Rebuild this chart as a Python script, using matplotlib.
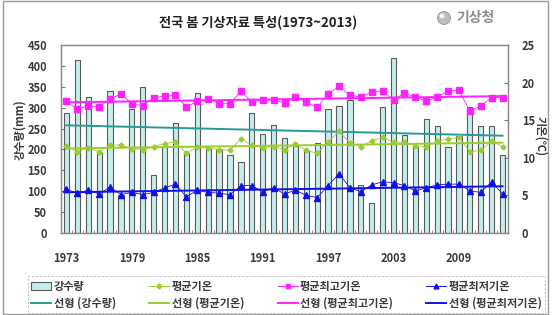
import numpy as np
import matplotlib
matplotlib.use("Agg")
import matplotlib.pyplot as plt
from matplotlib.patches import Rectangle, Ellipse
from matplotlib.lines import Line2D

plt.rcParams['font.family'] = ['Noto Sans CJK KR', 'DejaVu Sans']

years = list(range(1973, 2014))
precip = [288, 415, 326, 191, 341, 90, 296, 350, 140, 205,
          263, 192, 335, 200, 202, 187, 170, 288, 238, 258,
          228, 208, 196, 215, 298, 305, 318, 115, 71, 302,
          420, 235, 205, 274, 256, 205, 232, 302, 256, 256, 187]
t_mean = [11.6, 10.8, 11.3, 10.8, 11.7, 11.7, 11.2, 11.1, 11.5, 11.9,
          12.1, 10.6, 11.4, 11.3, 11.1, 11.0, 12.5, 11.7, 11.3, 11.5,
          11.1, 11.8, 11.0, 10.6, 12.1, 13.5, 12.0, 11.5, 12.3, 12.7,
          12.1, 12.1, 11.6, 11.5, 12.2, 12.5, 12.7, 10.8, 11.0, 12.2, 11.5]
t_max = [17.5, 16.5, 16.9, 16.8, 17.8, 18.5, 17.2, 16.9, 18.0, 18.2,
         18.3, 16.8, 17.5, 17.8, 17.2, 17.2, 18.9, 17.4, 17.7, 17.7,
         17.3, 18.1, 17.4, 16.7, 18.5, 19.5, 18.3, 18.1, 18.8, 18.9,
         17.7, 18.6, 18.1, 17.5, 18.1, 18.9, 19.0, 16.2, 16.9, 18.0, 18.0]
t_min = [5.8, 5.3, 5.7, 5.2, 6.1, 5.1, 5.4, 5.1, 5.4, 6.0,
         6.5, 4.8, 5.7, 5.4, 5.3, 5.1, 6.3, 6.3, 5.5, 6.0,
         5.2, 5.7, 5.0, 4.7, 6.3, 7.9, 6.0, 5.5, 6.4, 6.8,
         6.7, 6.3, 5.6, 6.0, 6.4, 6.5, 6.5, 5.6, 5.4, 6.8, 5.2]
tick_years = [1973, 1979, 1985, 1991, 1997, 2003, 2009]
left_ticks = list(range(0, 451, 50))
right_ticks = list(range(0, 26, 5))

c_bar = '#c4eeec'
c_bar_edge = '#5a5a5a'
c_teal = '#2a9a98'
c_green = '#9acd32'
c_mag = '#ff20ff'
c_blue = '#1010ee'
c_txt = '#3a3a3a'

W, H = 558, 315
fig = plt.figure(figsize=(W / 100, H / 100), dpi=100)

def fx(p):
    return p / W

def fy(p):
    return 1 - p / H

# outer frame
fig.add_artist(Rectangle((fx(3), fy(314)), fx(548) - fx(3), fy(0.5) - fy(314),
                         transform=fig.transFigure, fill=False,
                         edgecolor='#9a9a9a', linewidth=1.0))

L, R, T, B = 61, 508, 45, 233
ax = fig.add_axes([fx(L), fy(B), fx(R) - fx(L), fy(T) - fy(B)])
ax2 = ax.twinx()

x = np.array(years)
ax.bar(x, precip, width=0.48, color=c_bar, edgecolor=c_bar_edge, linewidth=0.8, zorder=2)
ax.set_xlim(1972.5, 2013.5)
ax.set_ylim(0, 450)
ax.set_yticks(left_ticks)

# trends
def trend(vals):
    k, b = np.polyfit(x, np.array(vals, dtype=float), 1)
    return k * x + b

ax.plot(x, trend(precip), color=c_teal, linewidth=1.4, zorder=3)

ax2.set_ylim(0, 25)
ax2.set_yticks(right_ticks)
ax2.plot(x, t_mean, color=c_green, linewidth=0.6, marker='D', markersize=2.6, zorder=4)
ax2.plot(x, t_max, color=c_mag, linewidth=0.6, marker='s', markersize=3.8, zorder=4)
ax2.plot(x, t_min, color=c_blue, linewidth=0.6, marker='^', markersize=3.8, zorder=4)
ax2.plot(x, trend(t_mean), color=c_green, linewidth=1.4, zorder=5)
ax2.plot(x, trend(t_max), color=c_mag, linewidth=1.4, zorder=5)
ax2.plot(x, trend(t_min), color=c_blue, linewidth=1.4, zorder=5)

ax.set_xticks(tick_years)
ax.set_xticklabels([str(y) for y in tick_years])
ax.set_xticks(np.arange(1972.5, 2014, 1.0), minor=True)
ax.tick_params(axis='x', which='major', length=0, pad=14, labelsize=8, labelcolor=c_txt)
ax.tick_params(axis='x', which='minor', direction='in', length=2.5, color='#777777')
ax.tick_params(axis='y', direction='in', length=3, color='#777777', pad=10,
               labelsize=8, labelcolor=c_txt)
ax2.tick_params(axis='y', direction='in', length=3, color='#777777', pad=10,
                labelsize=8, labelcolor=c_txt)
for a in (ax, ax2):
    for lab in a.get_xticklabels() + a.get_yticklabels():
        lab.set_fontweight('bold')
    for s in a.spines.values():
        s.set_color('#8a8a8a')
        s.set_linewidth(0.9)

fig.text(fx(20), fy(130), '강수량(mm)', rotation=90, ha='center', va='center',
         fontsize=8, fontweight='bold', color=c_txt)
fig.text(fx(541), fy(136), '기온(℃)', rotation=270, ha='center', va='center',
         fontsize=8, fontweight='bold', color=c_txt)

fig.text(fx(258), fy(23), '전국 봄 기상자료 특성(1973~2013)', ha='center', va='center',
         fontsize=9.5, fontweight='bold', color='#222222')
fig.add_artist(Ellipse((fx(444), fy(18)), fx(13), 13 / H, transform=fig.transFigure,
                       facecolor='#bdbdbd', edgecolor='#999999', linewidth=0.6))
fig.add_artist(Ellipse((fx(442), fy(16)), fx(5), 5 / H, transform=fig.transFigure,
                       facecolor='#f4f4f4', edgecolor='none'))
fig.text(fx(476), fy(18), '기상청', ha='center', va='center',
         fontsize=10, fontweight='bold', color='#8c8c8c')

handles = [
    Rectangle((0, 0), 1, 1, facecolor=c_bar, edgecolor=c_bar_edge, linewidth=0.8),
    Line2D([], [], color=c_teal, linewidth=1.4),
    Line2D([], [], color=c_green, linewidth=0.7, marker='D', markersize=2.6),
    Line2D([], [], color=c_green, linewidth=1.4),
    Line2D([], [], color=c_mag, linewidth=0.7, marker='s', markersize=3.5),
    Line2D([], [], color=c_mag, linewidth=1.4),
    Line2D([], [], color=c_blue, linewidth=0.7, marker='^', markersize=3.5),
    Line2D([], [], color=c_blue, linewidth=1.4),
]
labels = ['강수량', '선형 (강수량)', '평균기온', '선형 (평균기온)',
          '평균최고기온', '선형 (평균최고기온)', '평균최저기온', '선형 (평균최저기온)']
leg = fig.legend(handles, labels, ncol=4, loc='lower left',
                 bbox_to_anchor=(fx(28), fy(313), fx(545) - fx(28), fy(272) - fy(313)),
                 bbox_transform=fig.transFigure, mode='expand',
                 fontsize=8, frameon=True, fancybox=False, borderpad=0.3,
                 handlelength=1.8, handletextpad=0.2, labelspacing=0.35,
                 borderaxespad=0, columnspacing=1.0)
leg.get_frame().set_edgecolor('#aaaaaa')
leg.get_frame().set_linestyle((0, (2, 2)))
leg.get_frame().set_linewidth(0.7)
for t in leg.get_texts():
    t.set_fontweight('bold')
    t.set_color(c_txt)

fig.savefig('out.png', dpi=100)
